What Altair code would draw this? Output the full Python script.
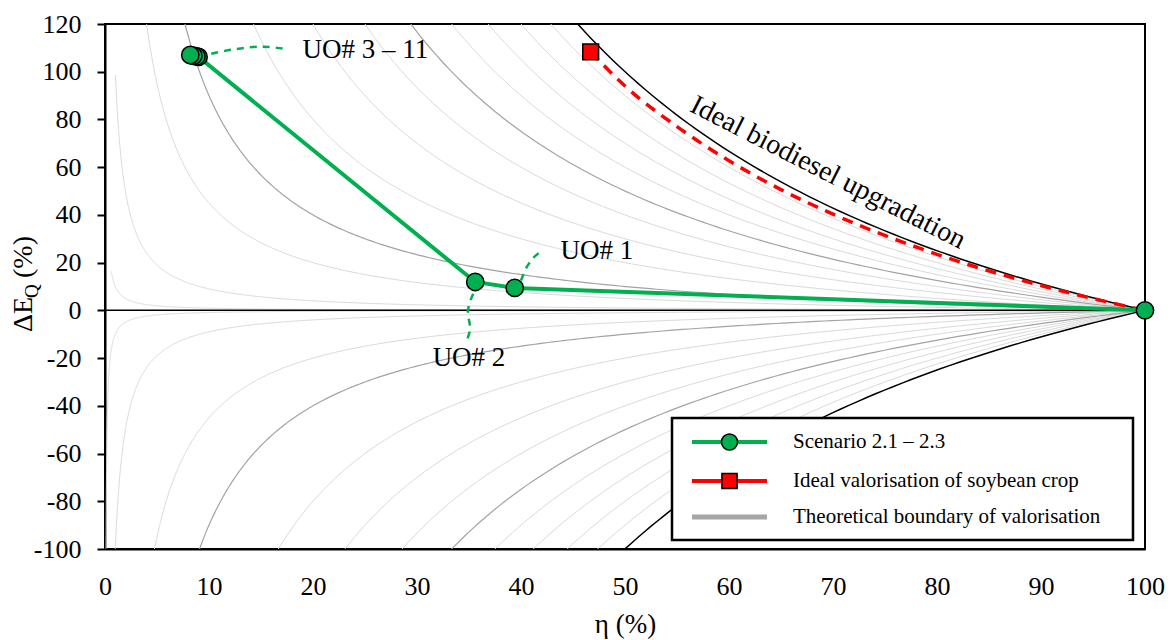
import altair as alt
import numpy as np
import pandas as pd

FONT = "Liberation Serif"

# ---- data ----
# Scenario 2.1 - 2.3 path: feedstock -> UO#1 -> UO#2 -> UO#3..11 cluster
SCEN_ETA = [100.0, 39.4, 35.6, 9.0, 8.8, 8.5, 8.2]
SCEN_DEQ = [0.0, 9.4, 11.9, 106.2, 106.4, 106.7, 107.0]

# Ideal valorisation of soybean crop (square + dashed path)
IDEAL_ETA = [46.7]
IDEAL_DEQ = [108.3]
RED_ETA = [46.7, 50.0, 55.0, 60.0, 65.0, 70.0, 80.0, 90.0, 100.0]
RED_DEQ = [108.3, 94.0, 77.0, 62.7, 50.6, 40.3, 23.5, 10.4, 0.0]

# Theoretical boundaries of valorisation: dE = +/- c * (100/eta - 1)
BOUND_COEF = [0.1, 1, 5, 10, 20, 30, 40, 50, 60, 70, 80, 90, 100]
DARK_COEF = [10, 50]
UPPER_START = {0.1: 0.6}

# leader lines of the annotations (data units)
LEAD3_ETA = [9.0, 12.3, 15.2, 17.6]
LEAD3_DEQ = [106.3, 109.3, 110.5, 109.4]
LEAD1_ETA = [40.0, 40.6, 41.3, 42.1]
LEAD1_DEQ = [12.5, 18.5, 22.5, 25.2]
LEAD2_ETA = [35.4, 34.9, 35.1, 34.7]
LEAD2_DEQ = [7.0, 0.0, -8.0, -13.5]

LEGEND_LABELS = ["Scenario 2.1 – 2.3", "Ideal valorisation of soybean crop",
                 "Theoretical boundary of valorisation"]

# ---- build tables ----
eta_grid = np.geomspace(0.1, 100, 600)
rows = []
for c in BOUND_COEF:
    style = "black" if c == 100 else ("dark" if c in DARK_COEF else "light")
    for sign, start in ((1, UPPER_START.get(c, 1.0)), (-1, 0.1)):
        for e in eta_grid:
            if e < start - 1e-9:
                continue
            v = sign * c * (100.0 / e - 1.0)
            if abs(v) > 400:
                continue
            rows.append({"curve": f"{sign}_{c}", "style": style, "eta": float(e), "deq": float(v)})
bound = pd.DataFrame(rows)

scen = pd.DataFrame({"eta": SCEN_ETA, "deq": SCEN_DEQ, "seq": list(range(len(SCEN_ETA)))})
ideal = pd.DataFrame({"eta": IDEAL_ETA, "deq": IDEAL_DEQ})
red = pd.DataFrame({"eta": RED_ETA, "deq": RED_DEQ, "seq": list(range(len(RED_ETA)))})


def lead(e, d, name):
    return pd.DataFrame({"eta": e, "deq": d, "seq": list(range(len(e))), "name": name})


leads = pd.concat([lead(LEAD3_ETA, LEAD3_DEQ, "a"), lead(LEAD1_ETA, LEAD1_DEQ, "b"),
                   lead(LEAD2_ETA, LEAD2_DEQ, "c")])

xs = alt.Scale(domain=[0, 100], nice=False, zero=False)
ys = alt.Scale(domain=[-100, 120], nice=False, zero=False)
X = alt.X("eta:Q", scale=xs,
          axis=alt.Axis(values=list(range(0, 101, 10)), title="η (%)", tickSize=0,
                        labelPadding=24, titlePadding=12, labelFlush=False,
                        labelExpr="'' + datum.value"))
Y = alt.Y("deq:Q", scale=ys,
          axis=alt.Axis(values=list(range(-100, 121, 20)), title=None, tickSize=8,
                        labelPadding=16, labelFlush=False, labelExpr="'' + datum.value"))

base_b = alt.Chart(bound)
light = base_b.transform_filter("datum.style == 'light'").mark_line(
    clip=True, color="#dadada", strokeWidth=1).encode(
    x=X, y=Y, detail="curve:N", order="eta:Q")
dark = base_b.transform_filter("datum.style == 'dark'").mark_line(
    clip=True, color="#a3a3a3", strokeWidth=1.2).encode(
    x=X, y=Y, detail="curve:N", order="eta:Q")
blackc = base_b.transform_filter("datum.style == 'black'").mark_line(
    clip=True, color="#000000", strokeWidth=1.5).encode(
    x=X, y=Y, detail="curve:N", order="eta:Q")

zero = alt.Chart(pd.DataFrame({"deq": [0.0]})).mark_rule(color="black", strokeWidth=1.5).encode(
    y=alt.Y("deq:Q", scale=ys))

red_line = alt.Chart(red).mark_line(color="#ff0000", strokeWidth=3.5, strokeDash=[11, 8],
                                    interpolate="monotone", clip=True).encode(
    x=X, y=Y, order="seq:Q")

green_line = alt.Chart(scen).mark_line(color="#00b050", strokeWidth=4).encode(
    x=X, y=Y, order="seq:Q")

lead_lines = alt.Chart(leads).mark_line(color="#00b050", strokeWidth=2.5, strokeDash=[7, 6],
                                        interpolate="catmull-rom").encode(
    x=X, y=Y, detail="name:N", order="seq:Q")

green_pts = alt.Chart(scen).mark_point(shape="circle", filled=True, fill="#00b050", stroke="black",
                                       strokeWidth=1.5, size=300, opacity=1).encode(x=X, y=Y)
red_pt = alt.Chart(ideal).mark_point(shape="square", filled=True, fill="#ff0000", stroke="black",
                                     strokeWidth=1.5, size=250, opacity=1).encode(x=X, y=Y)

ann = pd.DataFrame({
    "eta": [19.0, 43.8, 35.0, 69.5],
    "deq": [109.1, 25.0, -20.0, 57.6],
    "txt": ["UO# 3 – 11", "UO# 1", "UO# 2", "Ideal biodiesel upgradation"],
    "al": ["left", "left", "center", "center"],
    "ang": [0, 0, 0, 27],
})
ann_l = alt.Chart(ann).transform_filter("datum.al == 'left'").mark_text(
    font=FONT, fontSize=27, align="left", baseline="middle", color="black").encode(
    x=X, y=Y, text="txt:N")
ann_c = alt.Chart(ann).transform_filter("datum.al == 'center' && datum.ang == 0").mark_text(
    font=FONT, fontSize=27, align="center", baseline="middle", color="black").encode(
    x=X, y=Y, text="txt:N")
ann_r = alt.Chart(ann).transform_filter("datum.ang != 0").mark_text(
    font=FONT, fontSize=28, align="center", baseline="middle", color="black", angle=27).encode(
    x=X, y=Y, text="txt:N")

one = pd.DataFrame({"k": [0]})

# ---- legend (manual) ----
LX0, LX1, LY0, LY1 = 567, 1028, 394, 516
ROWS = [418, 457, 493]
leg_box = alt.Chart(one).mark_rect(fill="white", stroke="black", strokeWidth=2.5).encode(
    x=alt.value(LX0), x2=alt.value(LX1), y=alt.value(LY0), y2=alt.value(LY1))
leg_items = []
for i, (col, w) in enumerate([("#00b050", 4), ("#ff0000", 4), ("#a6a6a6", 5)]):
    leg_items.append(alt.Chart(one).mark_rule(color=col, strokeWidth=w).encode(
        x=alt.value(587), x2=alt.value(662), y=alt.value(ROWS[i])))
leg_items.append(alt.Chart(one).mark_point(shape="circle", filled=True, fill="#00b050",
                                           stroke="black", strokeWidth=1.5, size=260, opacity=1).encode(
    x=alt.value(624.5), y=alt.value(ROWS[0])))
leg_items.append(alt.Chart(one).mark_point(shape="square", filled=True, fill="#ff0000",
                                           stroke="black", strokeWidth=1.5, size=230, opacity=1).encode(
    x=alt.value(624.5), y=alt.value(ROWS[1])))
for i, lab in enumerate(LEGEND_LABELS):
    leg_items.append(alt.Chart(one).mark_text(text=lab, font=FONT, fontSize=21, align="left",
                                              baseline="middle", color="black").encode(
        x=alt.value(688), y=alt.value(ROWS[i])))

# ---- y-axis title with subscript ----
ytitle = [
    alt.Chart(one).mark_text(text="ΔE", font=FONT, fontSize=28, align="left", baseline="middle",
                             angle=270, color="black").encode(x=alt.value(-81), y=alt.value(308)),
    alt.Chart(one).mark_text(text="Q", font=FONT, fontSize=19, align="left", baseline="middle",
                             angle=270, color="black").encode(x=alt.value(-73), y=alt.value(274)),
    alt.Chart(one).mark_text(text="(%)", font=FONT, fontSize=28, align="left", baseline="middle",
                             angle=270, color="black").encode(x=alt.value(-81), y=alt.value(254)),
]

chart = alt.layer(
    light, dark, blackc, zero, red_line, green_line, lead_lines, green_pts, red_pt,
    ann_l, ann_c, ann_r, leg_box, *leg_items, *ytitle
).properties(
    width=1040, height=525,
    autosize=alt.AutoSizeParams(type="none"),
    padding={"left": 97, "top": 16, "right": 20, "bottom": 90},
).configure_view(
    stroke="black", strokeWidth=2
).configure_axis(
    labelFont=FONT, labelFontSize=26, labelColor="black", titleFont=FONT, titleFontSize=27,
    titleFontWeight="normal", titleColor="black", domainColor="black", domainWidth=2,
    tickColor="black", tickWidth=2, grid=False
)

chart.save("out.html", embed_options={"renderer": "svg", "actions": False})
